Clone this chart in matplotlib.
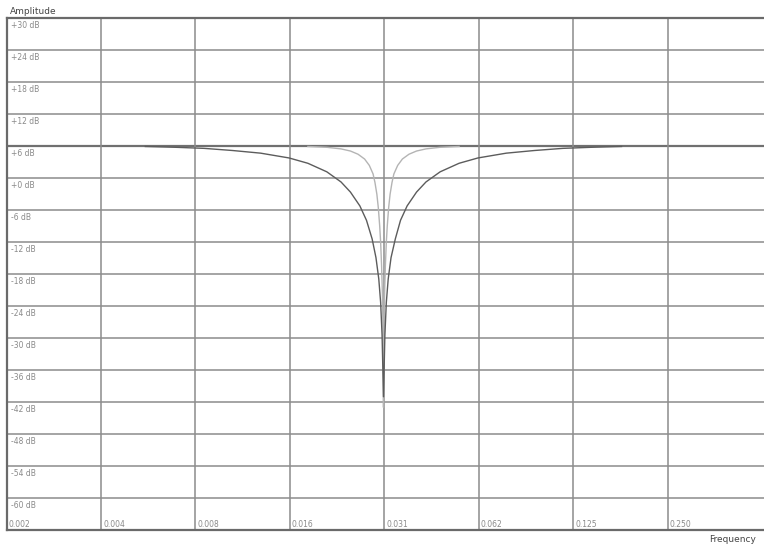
import matplotlib
matplotlib.use("Agg")

import numpy as np
import matplotlib.pyplot as plt

# ============================================================
# DATA
# ============================================================

# wide notch (dark curve)
wide_freq = [0.00554, 0.00692, 0.00852, 0.01049, 0.01291, 0.01590, 0.01826,
             0.02098, 0.02328, 0.02495, 0.02674, 0.02807, 0.02926, 0.03009,
             0.03072, 0.03114, 0.03147, 0.03180, 0.03213, 0.03247, 0.03292,
             0.03361, 0.03468, 0.03603, 0.03782, 0.04053, 0.04344, 0.04820,
             0.05537, 0.06360, 0.07830, 0.09640, 0.11868, 0.14611, 0.18240]
wide_db = [5.95, 5.8, 5.6, 5.2, 4.7, 3.8, 2.8,
           1.2, -0.7, -2.6, -5.2, -7.9, -11.4, -14.9,
           -18.9, -23.3, -29.4, -41.0, -29.4, -23.3, -18.9,
           -14.9, -11.4, -7.9, -5.2, -2.6, -0.7, 1.2,
           2.8, 3.8, 4.7, 5.2, 5.6, 5.8, 5.95]

# narrow notch (light curve)
narrow_freq = [0.01826, 0.02098, 0.02328, 0.02495, 0.02638, 0.02768, 0.02866,
               0.02946, 0.02987, 0.03029, 0.03061, 0.03093, 0.03114, 0.03136,
               0.03154, 0.03167, 0.03180, 0.03193, 0.03206, 0.03224, 0.03247,
               0.03269, 0.03303, 0.03338, 0.03385, 0.03432, 0.03529, 0.03653,
               0.03834, 0.04053, 0.04344, 0.04820, 0.05537]
narrow_db = [5.95, 5.8, 5.5, 5.1, 4.5, 3.6, 2.4,
             0.8, -0.8, -3.0, -5.5, -9.0, -12.0, -16.5,
             -21.5, -28.0, -43.0, -28.0, -21.5, -16.5, -12.0,
             -9.0, -5.5, -3.0, -0.8, 0.8, 2.4, 3.6,
             4.5, 5.1, 5.5, 5.8, 5.95]

db_ticks = [30, 24, 18, 12, 6, 0, -6, -12, -18, -24, -30, -36, -42, -48, -54, -60]
db_labels = ["+30 dB", "+24 dB", "+18 dB", "+12 dB", "+6 dB", "+0 dB", "-6 dB",
             "-12 dB", "-18 dB", "-24 dB", "-30 dB", "-36 dB", "-42 dB",
             "-48 dB", "-54 dB", "-60 dB"]
freq_ticks = [0.002, 0.004, 0.008, 0.016, 0.032, 0.064, 0.128, 0.256]
freq_labels = ["0.002", "0.004", "0.008", "0.016", "0.031", "0.062", "0.125", "0.250"]

# ============================================================
# FIGURE
# ============================================================

W, H = 764, 545
fig = plt.figure(figsize=(W / 100, H / 100), dpi=100)
fig.patch.set_facecolor("white")

# axes runs past the right edge of the picture, like the original
left_px, top_px, bottom_px = 6.5, 18.3, 530.0
ax = fig.add_axes([left_px / W, 1 - bottom_px / H,
                   1.0 - left_px / W + 0.002, (bottom_px - top_px) / H])
ax.set_xscale("log", base=2)
ax.set_xlim(0.002, 0.5247)
ax.set_ylim(-66, 30)
ax.set_xticks([])
ax.set_yticks([])
ax.minorticks_off()

grid_col = "#8c8c8c"
frame_col = "#6a6a6a"
text_col = "#8a8a8a"

for v in db_ticks:
    lw = 1.6 if v == 6 else 1.1
    col = "#707070" if v == 6 else grid_col
    ax.axhline(v, color=col, lw=lw, zorder=1)
for f in freq_ticks[1:]:
    ax.axvline(f, color=grid_col, lw=1.1, zorder=1)

for side in ["left", "top", "bottom"]:
    ax.spines[side].set_color(frame_col)
    ax.spines[side].set_linewidth(1.6)
ax.spines["right"].set_visible(False)

ax.plot(narrow_freq, narrow_db, color="#b4b4b4", lw=1.0, zorder=3)
ax.plot(wide_freq, wide_db, color="#5c5c5c", lw=1.0, zorder=4)

# dB labels just below each line, inside the plot
for v, lab in zip(db_ticks, db_labels):
    ax.annotate(lab, xy=(0.002, v), xytext=(3, -2), textcoords="offset points",
                ha="left", va="top", fontsize=5.5, color=text_col, zorder=5)

# frequency labels sitting on the bottom line
for f, lab in zip(freq_ticks, freq_labels):
    ax.annotate(lab, xy=(f, -66), xytext=(1.5, 1), textcoords="offset points",
                ha="left", va="bottom", fontsize=5.5, color=text_col, zorder=5)

fig.text(10 / W, 1 - 11 / H, "Amplitude", ha="left", va="center",
         fontsize=6.5, color="#444444")
fig.text(709 / W, 1 - 539 / H, "Frequency", ha="left", va="center",
         fontsize=6.5, color="#444444")

fig.savefig("out.png", dpi=100, facecolor="white")
